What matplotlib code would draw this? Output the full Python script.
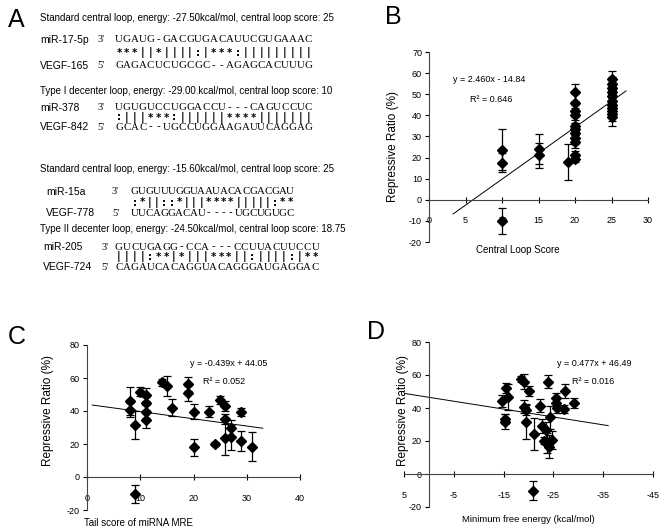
import matplotlib
matplotlib.use("Agg")
import matplotlib.pyplot as plt

plt.rcParams['font.family'] = ['Liberation Sans', 'DejaVu Sans']
plt.rcParams['axes.unicode_minus'] = False

W, H = 661, 532

# ---------- panel A : alignments ----------
a_titles = [
    "Standard central loop, energy: -27.50kcal/mol, central loop score: 25",
    "Type I decenter loop, energy: -29.00.kcal/mol, central loop score: 10",
    "Standard central loop, energy: -15.60kcal/mol, central loop score: 25",
    "Type II decenter loop, energy: -24.50kcal/mol, central loop score: 18.75",
]
a_mirna = ["miR-17-5p", "miR-378", "miR-15a", "miR-205"]
a_target = ["VEGF-165", "VEGF-842", "VEGF-778", "VEGF-724"]
a_top = [
    "UGAUG-GACGUGACAUUCGUGAAAC",
    "UGUGUCCUGGACCU---CAGUCCUC",
    "GUGUUUGGUAAUACACGACGAU",
    "GUCUGAGG-CCA---CCUUACUUCCU",
]
a_match = [
    "***||*||||:|***:|||||||||",
    ":|||***:||||||****|||||||",
    ":*||::*|||****|||||:**",
    "||||:**|*|||***||:||||:|**",
]
a_bottom = [
    "GAGACUCUGCGC--AGAGCACUUUG",
    "GCAC--UGCCUGGAAGAUUCAGGAG",
    "UUCAGGACAU----UGCUGUGC",
    "CAGAUCACAGGUACAGGGAUGAGGAC",
]

# ---------- panel B ----------
b_x = [10, 10, 10, 15, 15, 19] + [20] * 11 + [25] * 11
b_y = [23.8, 17.6, -10, 24, 21, 18,
       51, 46, 42, 40, 35, 33.5, 31.5, 29.5, 27.5, 21, 19.5,
       57, 55, 53, 51, 49, 47, 45, 43.5, 42, 40.5, 39]
b_err = [9.5, 4.5, 6, 7, 6, 8.5,
         4, 4, 3, 3.5, 3, 3, 3.5, 3, 3, 2, 1.5,
         4, 3, 3, 3, 3, 3, 3, 3, 3, 3, 4]
b_fit = (2.460, -14.84)
b_fit_range = (3.3, 27)

# ---------- panel C ----------
c_x = [8, 8, 9, 9, 10, 11, 11, 11, 11, 14, 15, 16, 19, 19, 20, 20,
       23, 24, 25, 26, 26, 26, 27, 27, 29, 29, 31]
c_y = [46, 40.6, 31.5, -10.3, 51.7, 50, 44.6, 39.6, 34.5, 57.4, 55.2, 42,
       56.2, 50.7, 39.6, 18, 39.6, 20, 46.7, 43, 35, 23.8, 29.5, 24,
       39.6, 21.8, 18.4]
c_err = [8.7, 4, 8.5, 5.5, 2.7, 4, 4, 4, 4.9, 2, 6, 5, 4.3, 4.5, 4.5, 5,
         3.5, 1, 2.5, 3, 3, 10.5, 5, 7.5, 2.5, 6.2, 8.8]
c_fit = (-0.439, 44.05)
c_fit_range = (1, 33)

# ---------- panel D ----------
d_x = [-14.7, -15.2, -15.2, -15.5, -15.9, -18.5, -19.1, -20, -19.1, -19.4,
       -19.5, -21.2, -22.4, -22.7, -23.9, -23.5, -23.2, -23.7, -24.2, -24.4,
       -24.7, -25.5, -25.5, -25.7, -27.3, -27.2, -29.2, -21]
d_y = [44.4, 33.1, 31.7, 51.9, 46.5, 57.6, 56, 50.3, 40.8, 38.8,
       31.7, 24.2, 41.4, 29.1, 56, 26.7, 20.2, 19, 16.5, 34.3,
       20.6, 45.8, 43.2, 40.2, 50.3, 39.2, 42.8, -10]
d_err = [3.5, 3, 4.5, 3, 8, 2, 4.5, 3, 4, 3,
         10.5, 9.5, 4, 4, 4, 5, 2, 6, 7, 7,
         5.5, 3, 3, 3, 4.5, 2.5, 3, 5.7]
d_fit = (0.477, 46.49)
d_fit_range = (5, -36)


def px_axes(fig, x0, x1, ytop, ybot):
    return fig.add_axes([x0 / W, 1 - ybot / H, (x1 - x0) / W, (ybot - ytop) / H])


def scatter_panel(ax, x, y, err, fit, fit_range):
    ax.errorbar(x, y, yerr=err, fmt='D', color='black', ms=4.8,
                elinewidth=0.9, capsize=2.8, capthick=0.9)
    xs = list(fit_range)
    ax.plot(xs, [fit[0] * v + fit[1] for v in xs], color='black', lw=0.7)
    for s in ['top', 'right']:
        ax.spines[s].set_visible(False)
    ax.spines['bottom'].set_position(('data', 0))
    ax.spines['bottom'].set_color('#444444')
    ax.spines['left'].set_color('#444444')
    ax.tick_params(axis='x', direction='inout', length=4, pad=10, labelsize=6.5)
    ax.tick_params(axis='y', direction='out', length=3, pad=2, labelsize=6.5)
    ax.patch.set_alpha(0)


fig = plt.figure(figsize=(W / 100, H / 100), dpi=100)

# overlay in pixel coordinates
ov = fig.add_axes([0, 0, 1, 1])
ov.set_xlim(0, W)
ov.set_ylim(H, 0)
ov.axis('off')

for lab, x, y in [("A", 8, 20), ("B", 385, 17), ("C", 8, 337), ("D", 367, 332)]:
    ov.text(x, y, lab, fontsize=18, va='center', ha='left')

# group layout: title y, row y's, name x, prime x, seq x0, char step
groups = [
    (18, (40, 53, 66), 40, 97, 115, 7.9),
    (91, (108, 117.5, 127), 40, 97, 115, 7.9),
    (169, (192, 202.5, 213), 46, 112, 131, 7.4),
    (229, (247, 257, 267), 43, 101, 115, 7.85),
]
for i, (ty, rows, nx, prx, sx, dx) in enumerate(groups):
    ov.text(40, ty, a_titles[i], fontsize=7.0, va='center', ha='left')
    ov.text(nx, rows[0], a_mirna[i], fontsize=7.5, va='center')
    ov.text(nx, rows[2], a_target[i], fontsize=7.5, va='center')
    ov.text(prx, rows[0], "3'", fontsize=7.5, va='center', family='Liberation Serif')
    ov.text(prx, rows[2], "5'", fontsize=7.5, va='center', family='Liberation Serif')
    for row, seq in ((rows[0], a_top[i]), (rows[2], a_bottom[i])):
        for k, ch in enumerate(seq):
            ov.text(sx + dx * (k + 0.5), row, ch, fontsize=7.8, ha='center',
                    va='center', family='Liberation Serif')
    for k, ch in enumerate(a_match[i]):
        ov.text(sx + dx * (k + 0.5), rows[1], ch, fontsize=7.2, ha='center',
                va='center', family='DejaVu Sans', fontweight='bold')

# ---------- B ----------
axb = px_axes(fig, 429, 648, 52, 242)
scatter_panel(axb, b_x, b_y, b_err, b_fit, b_fit_range)
axb.set_xlim(0, 30)
axb.set_ylim(-20, 70)
axb.set_xticks([0, 5, 10, 15, 20, 25, 30])
axb.set_yticks(range(-20, 71, 10))
ov.text(453, 80, "y = 2.460x - 14.84", fontsize=6.5, va='center')
ov.text(470, 99, "R² = 0.646", fontsize=6.5, va='center')
ov.text(393, 147, "Repressive Ratio (%)", fontsize=8.5, rotation=90,
        ha='center', va='center')
ov.text(518, 250, "Central Loop Score", fontsize=7, ha='center', va='center')

# ---------- C ----------
axc = px_axes(fig, 87, 300, 345, 510)
scatter_panel(axc, c_x, c_y, c_err, c_fit, c_fit_range)
axc.set_xlim(0, 40)
axc.set_ylim(-20, 80)
axc.set_xticks([0, 10, 20, 30, 40])
axc.set_yticks([-20, 0, 20, 40, 60, 80])
ov.text(190, 363, "y = -0.439x + 44.05", fontsize=6.5, va='center')
ov.text(203, 381, "R² = 0.052", fontsize=6.5, va='center')
ov.text(48, 410, "Repressive Ratio (%)", fontsize=8.5, rotation=90,
        ha='center', va='center')
ov.text(139, 523, "Tail score of miRNA MRE", fontsize=7, ha='center', va='center')

# ---------- D ----------
axd = px_axes(fig, 404, 653, 342, 507)
scatter_panel(axd, d_x, d_y, d_err, d_fit, d_fit_range)
axd.set_xlim(5, -45)
axd.set_ylim(-20, 80)
axd.spines['left'].set_position(('data', 0))
axd.set_xticks([5, -5, -15, -25, -35, -45])
axd.set_yticks([-20, 0, 20, 40, 60, 80])
ov.text(557, 364, "y = 0.477x + 46.49", fontsize=6.5, va='center')
ov.text(572, 381, "R² = 0.016", fontsize=6.5, va='center')
ov.text(403, 410, "Repressive Ratio (%)", fontsize=8.5, rotation=90,
        ha='center', va='center')
ov.text(528, 519, "Minimum free energy (kcal/mol)", fontsize=6.8,
        ha='center', va='center')

fig.savefig("out.png", dpi=100)
